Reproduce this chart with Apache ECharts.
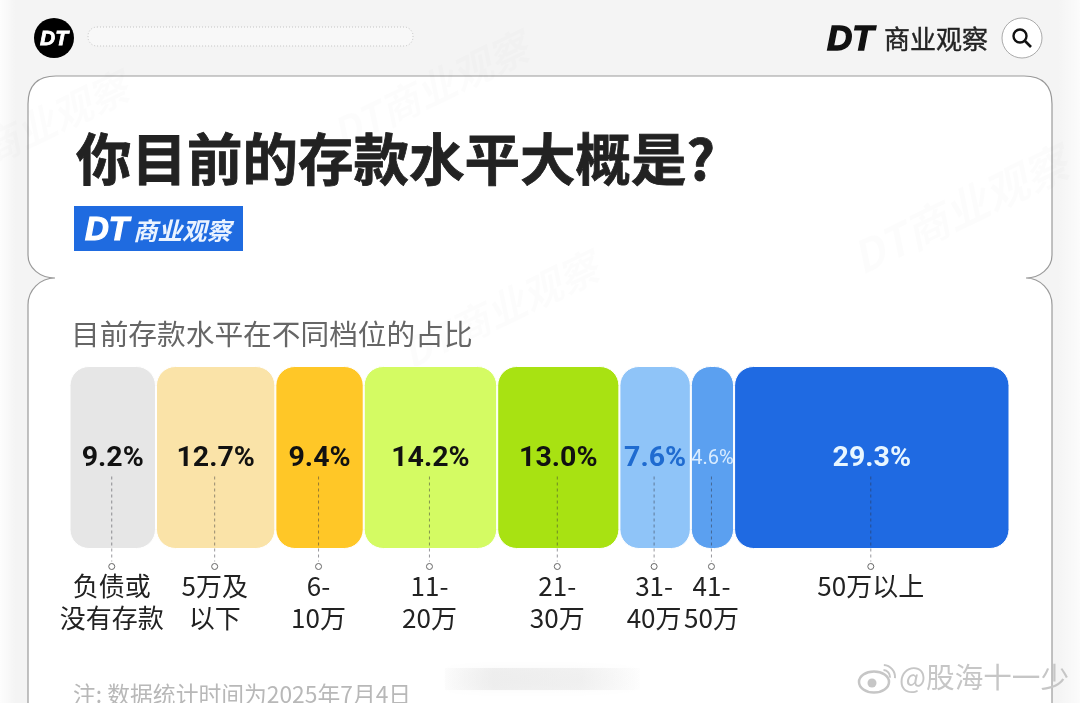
<!DOCTYPE html>
<html>
<head>
<meta charset="utf-8">
<title>你目前的存款水平大概是?</title>
<style>
html,body{margin:0;padding:0;background:#f4f4f4;}
#main{width:1080px;height:703px;}
</style>
<script src="https://cdn.jsdelivr.net/npm/echarts@6/dist/echarts.min.js"></script>
</head>
<body>
<div id="main"></div>
<script>
var categories = ["负债或\n没有存款","5万及\n以下","6-\n10万","11-\n20万","21-\n30万","31-\n40万","41-\n50万","50万以上"];
var shares = [9.2,12.7,9.4,14.2,13.0,7.6,4.6,29.3];
var barColors = ["#e6e6e6","#fae3a8","#ffc727","#d4fb63","#a8e212","#8fc4f8","#5ba0f0","#1f6ae2"];
var labelColors = ["#111","#111","#111","#111","#111","#1f6bd0","#d9ecff","#e8f6ff"];

var cjk = '"Noto Sans CJK SC"';
var digit = 'Roboto';
var latin = '"Liberation Sans"';

// 每档的中点，虚线和下方文字都挂在这里
var mids = [];
var sum = 0;
for(var i=0;i<shares.length;i++){
	mids.push([sum+shares[i]/2,0]);
	sum+=shares[i];
}

var series = [];
for(var i=0;i<shares.length;i++){
	series.push({
		name:categories[i].replace("\n",""),
		type:"bar",
		stack:"share",
		barWidth:"100%",
		data:[shares[i]],
		itemStyle:{color:barColors[i],borderColor:"#fff",borderWidth:1,borderRadius:19},
		label:{
			show:true,
			position:"inside",
			offset:[0,1],
			formatter:shares[i].toFixed(1)+"%",
			color:labelColors[i],
			fontFamily:digit,
			fontWeight:i==6?"normal":"bold",
			fontSize:i==6?20:28.5
		}
	});
}

// 虚线引线、小圆圈、档位文字
series.push({
	type:"custom",
	clip:false,
	z:10,
	data:mids,
	renderItem:function(params,api){
		var p = api.coord([api.value(0),0]);
		var x = p[0]-1;
		var y = p[1];
		return {
			type:"group",
			children:[
				{type:"line",shape:{x1:x,y1:y+19,x2:x,y2:y+104},
					style:{stroke:"rgba(50,50,60,0.5)",lineWidth:1,lineDash:[3,3]}},
				{type:"circle",shape:{cx:x,cy:y+109,r:3},
					style:{fill:"#fff",stroke:"#666",lineWidth:1}},
				{type:"text",x:x,y:y+113,
					style:{text:categories[params.dataIndex],fill:"#222",
						fontFamily:cjk,fontSize:26,lineHeight:32,align:"center",verticalAlign:"top"}}
			]
		};
	}
});

// 票据形状的白色卡片
echarts.graphic.registerShape("ticketCard",echarts.graphic.extendShape({
	buildPath:function(ctx){
		ctx.moveTo(28,104);
		ctx.quadraticCurveTo(28,76,56,76);
		ctx.lineTo(1024,76);
		ctx.quadraticCurveTo(1052,76,1052,104);
		ctx.lineTo(1052,255);
		ctx.bezierCurveTo(1052,268,1040,278,1026,278);
		ctx.bezierCurveTo(1040,278,1052,290,1052,305);
		ctx.lineTo(1052,730);
		ctx.lineTo(28,730);
		ctx.lineTo(28,305);
		ctx.bezierCurveTo(28,290,40,278,55,278);
		ctx.bezierCurveTo(40,278,28,268,28,255);
		ctx.closePath();
	}
}));

function mark(x,y,size){ // 背景水印
	return {type:"text",x:x,y:y,rotation:0.45,z:1,
		style:{text:"DT商业观察",fill:"rgba(0,0,0,0.012)",font:"italic bold "+size+"px "+cjk,align:"center",verticalAlign:"middle"}};
}
function edgeFade(x,w,from,to){ // 截图两侧发白的边
	return {type:"rect",z:0,shape:{x:x,y:0,width:w,height:703},
		style:{fill:new echarts.graphic.LinearGradient(0,0,1,0,[{offset:0,color:from},{offset:1,color:to}])}};
}

var myChart = echarts.init(document.getElementById("main"));
myChart.setOption({
	animation:false,
	backgroundColor:"#f4f4f4",
	grid:{left:69.5,top:366,width:940,height:183},
	xAxis:{type:"value",min:0,max:100,show:false},
	yAxis:{type:"category",data:["存款水平"],show:false},
	title:[
		{text:"你目前的存款水平大概是?",left:76,top:119,padding:0,
			textStyle:{fontFamily:cjk,fontWeight:"bold",fontSize:55.5,color:"#222",lineHeight:80,textBorderColor:"#222",textBorderWidth:0.8}},
		{text:"目前存款水平在不同档位的占比",left:71,top:315,padding:0,
			textStyle:{fontFamily:cjk,fontWeight:"normal",fontSize:28.7,color:"#666",lineHeight:38}}
	],
	graphic:[
		edgeFade(0,16,"rgba(255,255,255,0.8)","rgba(255,255,255,0)"),
		edgeFade(1058,22,"rgba(255,255,255,0)","rgba(255,255,255,0.7)"),
		{type:"ticketCard",z:0,shape:{},style:{fill:"#fff",stroke:"#9a9a9a",lineWidth:1.2}},
		mark(960,210,44),mark(500,310,40),mark(30,130,40),mark(430,90,40),
		// 顶部栏
		{type:"circle",z:2,shape:{cx:54,cy:38,r:20},style:{fill:"#000"}},
		{type:"text",z:3,x:54,y:39,style:{text:"DT",fill:"#fff",stroke:"#fff",lineWidth:0.8,font:"italic bold 21px "+latin,align:"center",verticalAlign:"middle"}},
		{type:"rect",z:2,shape:{x:88,y:27,width:325,height:19,r:9},style:{fill:"#f8f8f8",stroke:"#c4c4c4",lineWidth:1,lineDash:[1,2]}},
		{type:"text",z:3,x:827,y:40,style:{text:"DT",fill:"#111",stroke:"#111",lineWidth:1.4,font:"italic bold 35px "+latin,verticalAlign:"middle"}},
		{type:"text",z:3,x:884,y:39,style:{text:"商业观察",fill:"#222",stroke:"#222",lineWidth:0.4,font:"26px "+cjk,verticalAlign:"middle"}},
		{type:"circle",z:2,shape:{cx:1022,cy:38,r:20},style:{fill:"#fff",stroke:"#aaa",lineWidth:1}},
		{type:"circle",z:3,shape:{cx:1020,cy:36,r:6.5},style:{fill:"none",stroke:"#111",lineWidth:2.4}},
		{type:"line",z:3,shape:{x1:1025,y1:41,x2:1031,y2:47},style:{stroke:"#111",lineWidth:2.6}},
		// 蓝色角标
		{type:"rect",z:2,shape:{x:74,y:206,width:169,height:45},style:{fill:"#1f6be0"}},
		{type:"text",z:3,x:85,y:231,style:{text:"DT",fill:"#fff",stroke:"#fff",lineWidth:1.2,font:"italic bold 33px "+latin,verticalAlign:"middle"}},
		{type:"text",z:3,x:133,y:231,style:{text:"商业观察",fill:"#eaf3ff",font:"italic bold 24.5px "+cjk,verticalAlign:"middle"}},
		// 底部注释
		{type:"text",z:3,x:73,y:694,style:{text:"注: 数据统计时间为2025年7月4日",fill:"#b8b8b8",font:"22.8px "+cjk,verticalAlign:"middle"}},
		{type:"rect",z:2,shape:{x:445,y:668,width:195,height:22},
			style:{fill:new echarts.graphic.LinearGradient(0,0,1,0,[
				{offset:0,color:"rgba(228,228,228,0.1)"},{offset:0.25,color:"rgba(228,228,228,0.55)"},
				{offset:0.7,color:"rgba(228,228,228,0.45)"},{offset:1,color:"rgba(228,228,228,0.05)"}
			]),shadowBlur:8,shadowColor:"rgba(235,235,235,0.6)"}},
		// 微博水印
		{type:"ellipse",z:3,shape:{cx:874,cy:682,rx:15,ry:10.5},style:{fill:"none",stroke:"#c6c6c6",lineWidth:2.5}},
		{type:"circle",z:3,shape:{cx:872,cy:683,r:4.5},style:{fill:"#c6c6c6"}},
		{type:"arc",z:3,shape:{cx:883,cy:677,r:7,startAngle:-1.5,endAngle:0.1},style:{fill:"none",stroke:"#c6c6c6",lineWidth:2}},
		{type:"arc",z:3,shape:{cx:883,cy:677,r:12,startAngle:-1.5,endAngle:0.1},style:{fill:"none",stroke:"#c6c6c6",lineWidth:2}},
		{type:"text",z:3,x:899,y:677,style:{text:"@股海十一少",fill:"#c6c6c6",font:"28.6px "+cjk,verticalAlign:"middle"}}
	],
	series:series
});
</script>
</body>
</html>
